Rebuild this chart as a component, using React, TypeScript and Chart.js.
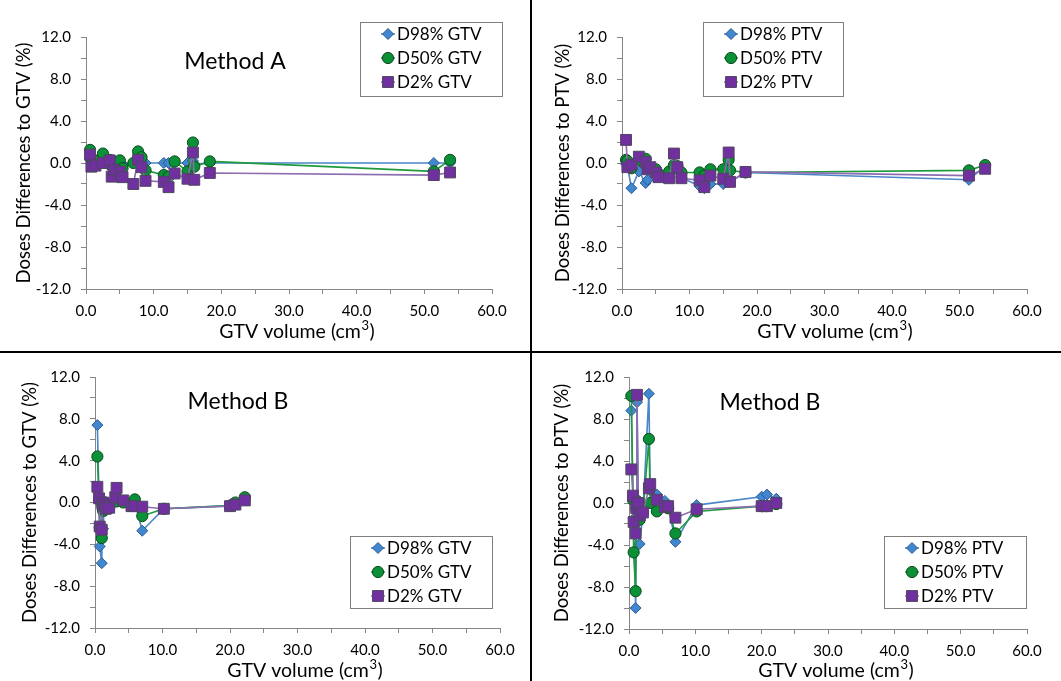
import React, { useEffect, useRef } from 'react';
import { Chart, registerables } from 'chart.js';
Chart.register(...registerables);

// ---------- data ----------
const volumesA = [0.6, 0.8, 1.4, 2.5, 3.5, 3.8, 4.2, 5.0, 5.4, 7.0, 7.7, 8.2, 8.8, 11.5, 12.2, 13.1, 15.0, 15.8, 16.0, 18.3, 51.4, 53.8];
const d98GtvA = [0.3, 0.1, -0.1, 0.2, 0.0, -0.2, 0.0, 0.0, -0.1, 0.0, 0.2, 0.0, 0.0, 0.0, 0.0, 0.0, 0.0, 0.2, -0.1, 0.0, 0.0, 0.0];
const d50GtvA = [1.25, 0.5, 0.2, 0.9, 0.3, -0.3, 0.1, 0.25, -0.5, 0.0, 1.1, 0.55, -0.7, -1.15, -1.3, 0.15, -0.8, 1.95, -0.35, 0.15, -0.8, 0.3];
const d2GtvA = [0.8, -0.35, -0.25, 0.0, 0.25, -1.3, -0.65, -0.85, -1.35, -2.0, 0.3, -0.4, -1.7, -1.8, -2.3, -1.0, -1.5, 1.0, -1.6, -0.95, -1.15, -0.9];

const d98PtvA = [-0.1, -0.3, -2.4, -0.8, -1.9, -1.6, -0.5, -0.6, -1.0, -1.3, -0.3, -0.5, -1.4, -2.2, -2.4, -2.0, -2.0, -0.6, -1.8, -0.9, -1.6, -0.3];
const d50PtvA = [0.3, 0.2, -0.5, 0.3, 0.4, -0.3, -0.5, -0.6, -1.0, -0.8, -0.2, -0.3, -0.9, -0.9, -1.2, -0.6, -0.6, 0.3, -0.7, -0.9, -0.7, -0.2];
const d2PtvA = [2.2, -0.4, -0.15, 0.6, 0.1, -0.6, -0.4, -0.9, -1.35, -1.45, 0.9, -0.4, -1.45, -1.65, -2.3, -1.2, -1.5, 1.0, -1.8, -0.85, -1.2, -0.55];

const volumesB = [0.35, 0.6, 0.7, 1.0, 1.1, 1.2, 1.4, 1.6, 2.1, 3.0, 3.2, 4.2, 5.4, 5.9, 7.0, 10.2, 20.0, 20.8, 22.2];
const d98GtvB = [7.4, 0.2, -4.2, -5.8, -0.5, -2.5, 0.1, -0.8, -0.5, 0.3, 0.2, 0.2, -0.1, 0.1, -2.7, -0.6, -0.3, -0.1, 0.3];
const d50GtvB = [4.4, 0.3, -2.4, -3.4, -0.3, -0.8, 0.0, -0.4, -0.5, 0.2, 0.1, 0.0, -0.2, 0.3, -1.3, -0.6, -0.3, 0.0, 0.5];
const d2GtvB = [1.5, 0.4, -2.3, -2.6, -0.2, 0.0, -0.3, -0.6, -0.5, 0.5, 1.4, 0.2, -0.35, -0.35, -0.4, -0.6, -0.35, -0.2, 0.2];

const d98PtvB = [8.8, 0.5, -1.5, -10.0, -0.8, 9.6, -0.3, -3.9, -1.0, 10.4, 1.2, 0.8, 0.2, -0.2, -3.7, -0.2, 0.6, 0.8, 0.4];
const d50PtvB = [10.2, 0.3, -4.7, -8.4, -0.5, 0.2, 0.0, -1.6, -0.9, 6.1, 0.0, -0.8, -0.3, -0.5, -2.9, -0.8, -0.3, -0.3, -0.1];
const d2PtvB = [3.2, 0.7, -1.8, -2.9, -0.5, 10.3, 0.0, -1.2, -0.9, 1.4, 1.8, 0.3, -0.4, -0.3, -1.4, -0.6, -0.3, -0.3, 0.0];

const xTicksMin = 0;
const xTicksMax = 60;
const yTicksMin = -12;
const yTicksMax = 12;

const FONT = 'Lato, "Open Sans", sans-serif';

const seriesStyles = [
  { style: 'rectRot', radius: 5.5, fill: '#4187D0', edge: '#2B5B91', line: '#4A85C8' },
  { style: 'circle', radius: 5.6, fill: '#0A9138', edge: '#0C4A1C', line: '#1E9A3C' },
  { style: 'rect', radius: 7.7, fill: '#7030A0', edge: '#4F4660', line: '#8C6DB0' },
];

type Panel = {
  box: { x: number; y: number; w: number; h: number };
  area: { l: number; t: number; r: number; b: number };
  yTitle: string;
  yTitleX: number;
  xTitleX: number;
  xTitleY: number;
  method: string;
  methodX: number;
  methodY: number;
  legend: { x: number; y: number; w: number; h: number };
  labels: string[];
  volumes: number[];
  series: number[][];
};

const panels: Panel[] = [
  {
    box: { x: 0, y: 0, w: 530, h: 351 },
    area: { l: 86, t: 37, r: 492, b: 289 },
    yTitle: 'Doses Differences to GTV (%)', yTitleX: 24,
    xTitleX: 297, xTitleY: 332,
    method: 'Method A', methodX: 235, methodY: 62,
    legend: { x: 360, y: 22, w: 142, h: 74 },
    labels: ['D98% GTV', 'D50% GTV', 'D2% GTV'],
    volumes: volumesA, series: [d98GtvA, d50GtvA, d2GtvA],
  },
  {
    box: { x: 532, y: 0, w: 529, h: 351 },
    area: { l: 622, t: 37, r: 1027, b: 289 },
    yTitle: 'Doses Differences to PTV (%)', yTitleX: 563,
    xTitleX: 835, xTitleY: 332,
    method: 'Method A', methodX: 775, methodY: 62,
    legend: { x: 703, y: 22, w: 140, h: 74 },
    labels: ['D98% PTV', 'D50% PTV', 'D2% PTV'],
    volumes: volumesA, series: [d98PtvA, d50PtvA, d2PtvA],
  },
  {
    box: { x: 0, y: 353, w: 530, h: 328 },
    area: { l: 95, t: 377, r: 500, b: 628 },
    yTitle: 'Doses Differences to GTV (%)', yTitleX: 30,
    xTitleX: 305, xTitleY: 671,
    method: 'Method B', methodX: 238, methodY: 402,
    legend: { x: 350, y: 536, w: 142, h: 72 },
    labels: ['D98% GTV', 'D50% GTV', 'D2% GTV'],
    volumes: volumesB, series: [d98GtvB, d50GtvB, d2GtvB],
  },
  {
    box: { x: 532, y: 353, w: 529, h: 328 },
    area: { l: 629, t: 377, r: 1027, b: 629 },
    yTitle: 'Doses Differences to PTV (%)', yTitleX: 562,
    xTitleX: 836, xTitleY: 671,
    method: 'Method B', methodX: 770, methodY: 403,
    legend: { x: 884, y: 536, w: 142, h: 72 },
    labels: ['D98% PTV', 'D50% PTV', 'D2% PTV'],
    volumes: volumesB, series: [d98PtvB, d50PtvB, d2PtvB],
  },
];

function drawMarker(ctx: CanvasRenderingContext2D, style: string, x: number, y: number, r: number, fill: string, edge: string) {
  ctx.beginPath();
  if (style === 'circle') {
    ctx.arc(x, y, r, 0, Math.PI * 2);
  } else if (style === 'rectRot') {
    ctx.moveTo(x, y - r); ctx.lineTo(x + r, y); ctx.lineTo(x, y + r); ctx.lineTo(x - r, y); ctx.closePath();
  } else {
    const s = r * Math.SQRT1_2;
    ctx.rect(x - s, y - s, 2 * s, 2 * s);
  }
  ctx.fillStyle = fill; ctx.fill();
  ctx.lineWidth = 1; ctx.strokeStyle = edge; ctx.stroke();
}

const decorPlugin = {
  id: 'decor',
  afterDraw(chart: any, _args: any, opts: any) {
    const ctx: CanvasRenderingContext2D = chart.ctx;
    const area = chart.chartArea;
    ctx.save();
    ctx.fillStyle = '#000';
    // y title
    ctx.save();
    ctx.font = `18.5px ${FONT}`;
    ctx.translate(opts.yTitleX, (area.top + area.bottom) / 2);
    ctx.rotate(-Math.PI / 2);
    ctx.textAlign = 'center';
    ctx.textBaseline = 'middle';
    ctx.fillText(opts.yTitle, 0, 0);
    ctx.restore();
    // x title with superscript
    ctx.font = `19.5px ${FONT}`;
    const p1 = 'GTV volume (cm';
    const p3 = ')';
    const w1 = ctx.measureText(p1).width;
    const w3 = ctx.measureText(p3).width;
    ctx.font = `13px ${FONT}`;
    const w2 = ctx.measureText('3').width;
    const total = w1 + w2 + w3 + 1;
    const xx = opts.xTitleX - total / 2;
    ctx.textAlign = 'left';
    ctx.textBaseline = 'middle';
    ctx.font = `19.5px ${FONT}`;
    ctx.fillText(p1, xx, opts.xTitleY);
    ctx.font = `13px ${FONT}`;
    ctx.fillText('3', xx + w1 + 0.5, opts.xTitleY - 6.5);
    ctx.font = `19.5px ${FONT}`;
    ctx.fillText(p3, xx + w1 + w2 + 1, opts.xTitleY);
    // method title
    ctx.font = `23px ${FONT}`;
    ctx.textAlign = 'center';
    ctx.fillText(opts.method, opts.methodX, opts.methodY);
    // legend
    const lg = opts.legend;
    ctx.fillStyle = '#fff';
    ctx.fillRect(lg.x, lg.y, lg.w, lg.h);
    ctx.strokeStyle = '#7f7f7f';
    ctx.lineWidth = 1;
    ctx.strokeRect(lg.x + 0.5, lg.y + 0.5, lg.w, lg.h);
    chart.data.datasets.forEach((ds: any, i: number) => {
      const st = seriesStyles[i];
      const cy = lg.y + 12 + i * 24;
      const mx = lg.x + 28;
      ctx.beginPath();
      ctx.moveTo(mx - 7, cy); ctx.lineTo(mx + 7, cy);
      ctx.strokeStyle = st.line; ctx.lineWidth = 1.5; ctx.stroke();
      drawMarker(ctx, st.style, mx, cy, st.radius, st.fill, st.edge);
      ctx.fillStyle = '#000';
      ctx.font = `17px ${FONT}`;
      ctx.textAlign = 'left';
      ctx.textBaseline = 'middle';
      ctx.fillText(ds.label, lg.x + 37, cy + 0.5);
    });
    ctx.restore();
  },
};

function PanelChart({ p }: { p: Panel }) {
  const ref = useRef<HTMLCanvasElement | null>(null);
  useEffect(() => {
    if (!ref.current) return;
    const bx = p.box.x, by = p.box.y;
    const L = p.area.l - bx;
    const T = p.area.t - by;
    const R = p.box.w - (p.area.r - bx);
    const H = p.box.h - (p.area.b - by);
    const datasets = p.series.map((vals, i) => {
      const st = seriesStyles[i];
      return {
        label: p.labels[i],
        data: p.volumes.map((v, j) => ({ x: v, y: vals[j] })),
        showLine: true,
        borderColor: st.line,
        borderWidth: 1.6,
        backgroundColor: st.fill,
        pointStyle: st.style,
        pointRadius: st.radius,
        pointBackgroundColor: st.fill,
        pointBorderColor: st.edge,
        pointBorderWidth: 1,
        tension: 0,
        fill: false,
        clip: false,
        order: 2 - i,
      };
    });
    const chart = new Chart(ref.current, {
      type: 'scatter',
      data: { datasets },
      plugins: [decorPlugin],
      options: {
        animation: false,
        responsive: false,
        maintainAspectRatio: false,
        layout: { padding: { left: 0, top: T, right: R, bottom: 0 } },
        plugins: {
          legend: { display: false },
          tooltip: { enabled: false },
          title: { display: false },
          decor: {
            yTitle: p.yTitle,
            yTitleX: p.yTitleX - bx,
            xTitleX: p.xTitleX - bx,
            xTitleY: p.xTitleY - by,
            method: p.method,
            methodX: p.methodX - bx,
            methodY: p.methodY - by,
            legend: { x: p.legend.x - bx, y: p.legend.y - by, w: p.legend.w, h: p.legend.h },
          },
        } as any,
        scales: {
          x: {
            type: 'linear',
            min: xTicksMin,
            max: xTicksMax,
            afterFit: (s: any) => { s.height = H; },
            ticks: {
              stepSize: 5,
              autoSkip: false,
              maxRotation: 0,
              padding: 8,
              color: '#000',
              font: { family: FONT, size: 15 },
              callback: (v: any) => (Math.round(v) % 10 === 0 ? Number(v).toFixed(1) : ''),
            },
            grid: { display: true, drawOnChartArea: false, drawTicks: true, tickLength: 5, color: '#868686', tickWidth: 1 },
            border: { display: true, color: '#868686', width: 1 },
          },
          y: {
            type: 'linear',
            min: yTicksMin,
            max: yTicksMax,
            afterFit: (s: any) => { s.width = L; },
            ticks: {
              stepSize: 2,
              autoSkip: false,
              padding: 10,
              color: '#000',
              font: { family: FONT, size: 15 },
              callback: (v: any) => (Math.round(v) % 4 === 0 ? Number(v).toFixed(1) : ''),
            },
            grid: { display: true, drawOnChartArea: false, drawTicks: true, tickLength: 5, color: '#868686', tickWidth: 1 },
            border: { display: true, color: '#868686', width: 1 },
          },
        },
      } as any,
    });
    return () => chart.destroy();
  }, [p]);
  return (
    <canvas
      ref={ref}
      width={p.box.w}
      height={p.box.h}
      style={{ position: 'absolute', left: p.box.x, top: p.box.y, width: p.box.w, height: p.box.h }}
    />
  );
}

export default function App() {
  return (
    <div style={{ position: 'fixed', left: 0, top: 0, width: 1061, height: 681, background: '#fff', overflow: 'hidden' }}>
      {panels.map((p, i) => (
        <PanelChart key={i} p={p} />
      ))}
      <div style={{ position: 'absolute', left: 530, top: 0, width: 2, height: 681, background: '#000' }} />
      <div style={{ position: 'absolute', left: 0, top: 351, width: 1061, height: 2, background: '#000' }} />
    </div>
  );
}
